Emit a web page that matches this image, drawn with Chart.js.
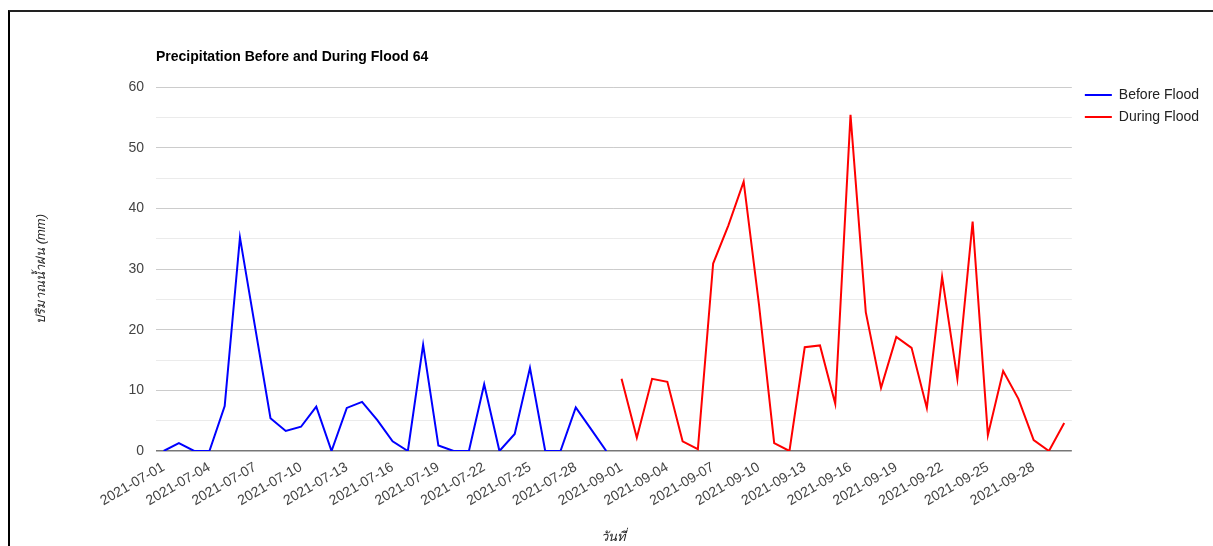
<!DOCTYPE html>
<html>
<head>
    <title>Precipitation Before and During Flood 64</title>
    <style>
        body {
            margin: 0;
            padding: 0;
            background-color: #ffffff;
            font-family: Arial, sans-serif;
        }
        .wrap {
            position: relative;
            width: 1213px;
            height: 546px;
            overflow: hidden;
        }
        .frame {
            position: absolute;
            left: 8px;
            top: 10px;
            right: -10px;
            bottom: -10px;
            border-left: 2px solid #000000;
            border-top: 2px solid #222222;
            pointer-events: none;
        }
    </style>
    <script src="https://cdn.jsdelivr.net/npm/chart.js@4.4.0/dist/chart.umd.min.js"></script>
</head>
<body>
    <div class="wrap">
        <canvas id="floodChart" width="1213" height="546"></canvas>
        <div class="frame"></div>
    </div>
    <script>
        var chartTitle = "Precipitation Before and During Flood 64";
        var xTitle = "วันที่";
        var yTitle = "ปริมาณน้ำฝน (mm)";

        // วันที่ (July before the flood, September during the flood)
        var julyDates = [
            "2021-07-01", "2021-07-02", "2021-07-03", "2021-07-04", "2021-07-05",
            "2021-07-06", "2021-07-07", "2021-07-08", "2021-07-09", "2021-07-10",
            "2021-07-11", "2021-07-12", "2021-07-13", "2021-07-14", "2021-07-15",
            "2021-07-16", "2021-07-17", "2021-07-18", "2021-07-19", "2021-07-20",
            "2021-07-21", "2021-07-22", "2021-07-23", "2021-07-24", "2021-07-25",
            "2021-07-26", "2021-07-27", "2021-07-28", "2021-07-29", "2021-07-30"
        ];
        var septDates = [
            "2021-09-01", "2021-09-02", "2021-09-03", "2021-09-04", "2021-09-05",
            "2021-09-06", "2021-09-07", "2021-09-08", "2021-09-09", "2021-09-10",
            "2021-09-11", "2021-09-12", "2021-09-13", "2021-09-14", "2021-09-15",
            "2021-09-16", "2021-09-17", "2021-09-18", "2021-09-19", "2021-09-20",
            "2021-09-21", "2021-09-22", "2021-09-23", "2021-09-24", "2021-09-25",
            "2021-09-26", "2021-09-27", "2021-09-28", "2021-09-29", "2021-09-30"
        ];

        // precipitation in mm
        var beforeFlood = [
            0, 1.3, 0, 0, 7.4, 35.2, 20.3, 5.4, 3.3, 4.0,
            7.3, 0, 7.1, 8.1, 5.1, 1.6, 0, 17.5, 0.9, 0,
            0, 11.0, 0, 2.8, 13.7, 0, 0, 7.2, 3.6, 0
        ];
        var duringFlood = [
            11.9, 2.2, 11.9, 11.4, 1.6, 0.3, 30.9, 37.2, 44.4, 24.2,
            1.3, 0, 17.1, 17.4, 7.8, 55.4, 22.9, 10.4, 18.8, 17.0,
            7.1, 28.7, 11.9, 37.8, 2.6, 13.2, 8.6, 1.8, 0, 4.6
        ];

        var yTicks = [0, 10, 20, 30, 40, 50, 60];

        var allDates = julyDates.concat(septDates);
        var gap = new Array(30).fill(null);

        // title is drawn by hand so it lines up with the plot's left edge
        var titlePlugin = {
            id: "leftTitle",
            afterDraw: function(chart) {
                var ctx = chart.ctx;
                ctx.save();
                ctx.font = "bold 14px Arial";
                ctx.fillStyle = "#000000";
                ctx.textBaseline = "middle";
                ctx.fillText(chartTitle, chart.chartArea.left, 57);
                ctx.restore();
            }
        };

        var ctx = document.getElementById("floodChart").getContext("2d");
        var floodChart = new Chart(ctx, {
            type: "line",
            data: {
                labels: allDates,
                datasets: [{
                    label: "Before Flood",
                    data: beforeFlood.concat(gap),
                    borderColor: "#0000ff",
                    backgroundColor: "#0000ff",
                    borderWidth: 2,
                    pointRadius: 0,
                    tension: 0
                }, {
                    label: "During Flood",
                    data: gap.concat(duringFlood),
                    borderColor: "#ff0000",
                    backgroundColor: "#ff0000",
                    borderWidth: 2,
                    pointRadius: 0,
                    tension: 0
                }]
            },
            options: {
                responsive: false,
                animation: false,
                layout: {
                    padding: { top: 80, right: 4, bottom: 0, left: 0 }
                },
                plugins: {
                    title: { display: false },
                    tooltip: { enabled: false },
                    legend: {
                        position: "right",
                        align: "start",
                        labels: {
                            usePointStyle: true,
                            pointStyle: "line",
                            pointStyleWidth: 27,
                            padding: 8,
                            color: "#222222",
                            font: { family: "Arial", size: 14 }
                        }
                    }
                },
                scales: {
                    x: {
                        offset: true,
                        grid: { display: false },
                        border: { display: false },
                        ticks: {
                            autoSkip: false,
                            minRotation: 30,
                            maxRotation: 30,
                            padding: 0,
                            color: "#444444",
                            font: { family: "Arial", size: 14 },
                            callback: function(value, index) {
                                return index % 3 === 0 ? allDates[index] : "";
                            }
                        },
                        title: {
                            display: true,
                            text: xTitle,
                            color: "#222222",
                            font: { family: "Arial", size: 13, style: "italic" },
                            padding: { top: 0, bottom: 1 }
                        },
                        afterFit: function(scale) {
                            scale.height = 95;
                        }
                    },
                    // empty spacer above the plot
                    topGap: {
                        type: "category",
                        axis: "x",
                        position: "top",
                        grid: { display: false },
                        border: { display: false },
                        ticks: { display: false },
                        afterFit: function(scale) {
                            scale.height = 7;
                        }
                    },
                    y: {
                        min: 0,
                        max: 60,
                        border: { display: false },
                        grid: {
                            drawTicks: false,
                            color: function(c) {
                                if (c.tick.value === 0) return "#777777";
                                return yTicks.indexOf(c.tick.value) >= 0 ? "#cccccc" : "#ebebeb";
                            },
                            lineWidth: function(c) {
                                return c.tick.value === 0 ? 1.5 : 1;
                            }
                        },
                        ticks: {
                            stepSize: 5,
                            padding: 12,
                            color: "#444444",
                            font: { family: "Arial", size: 14 },
                            callback: function(value) {
                                return yTicks.indexOf(value) >= 0 ? value : "";
                            }
                        },
                        title: {
                            display: true,
                            text: yTitle,
                            color: "#222222",
                            font: { family: "Arial", size: 13, style: "italic" },
                            padding: { top: 34, bottom: 0 }
                        },
                        afterFit: function(scale) {
                            scale.width = 156;
                        }
                    },
                    // empty spacer between the plot and the legend
                    gapAxis: {
                        type: "linear",
                        axis: "y",
                        position: "right",
                        grid: { display: false },
                        border: { display: false },
                        ticks: { display: false },
                        afterFit: function(scale) {
                            scale.width = 5;
                        }
                    }
                }
            },
            plugins: [titlePlugin]
        });
    </script>
</body>
</html>
